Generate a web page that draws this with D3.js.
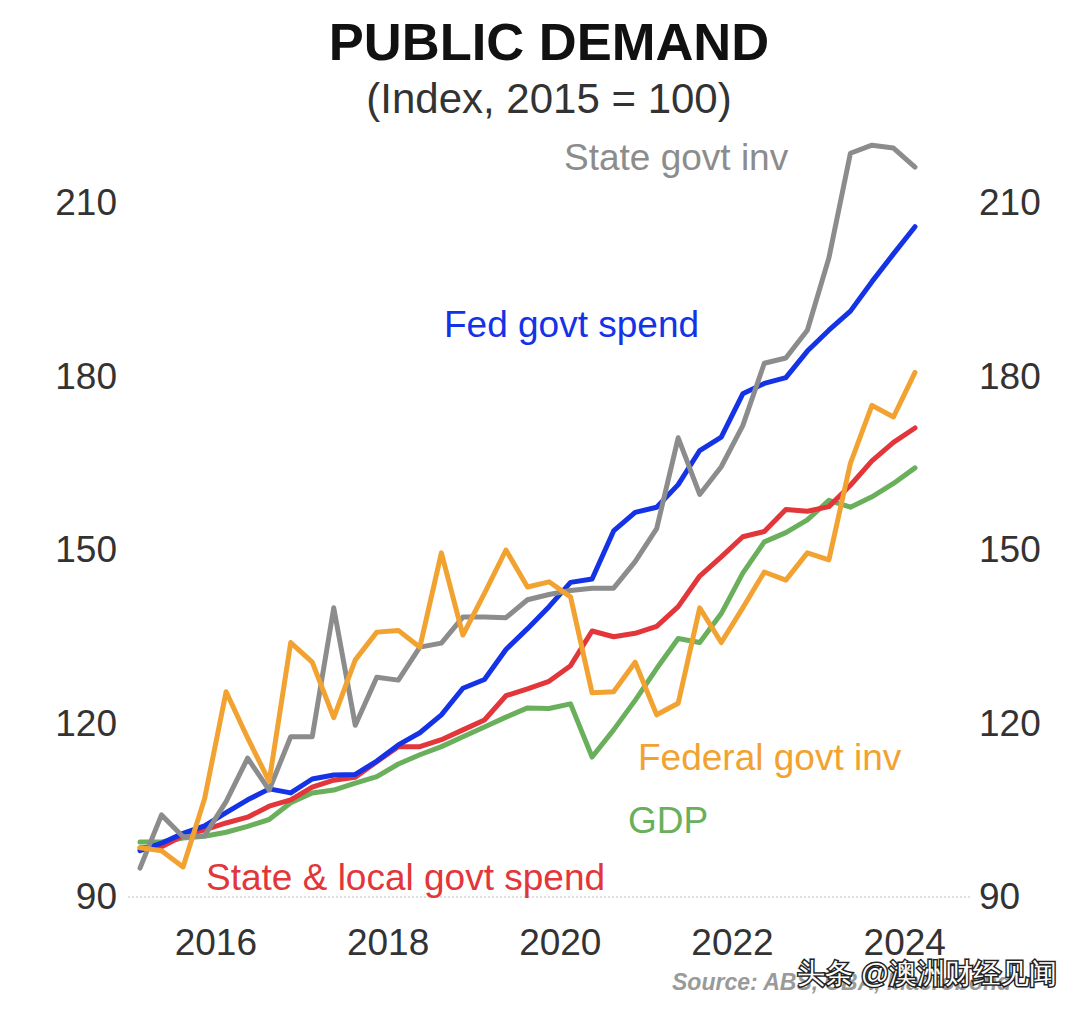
<!DOCTYPE html>
<html>
<head>
<meta charset="utf-8">
<script src="https://cdn.jsdelivr.net/npm/d3@7"></script>
<style>
  html, body { margin: 0; padding: 0; background: #fff; }
  svg { display: block; }
  text { font-family: "Liberation Sans", Arial, Helvetica, sans-serif; }
</style>
</head>
<body>
<svg id="chart" width="1076" height="1010"></svg>
<script>
// ---- Data (quarterly, 2015 Q1 – 2024 Q1), Index 2015 = 100 ----
const quarters = [
  "2015Q1","2015Q2","2015Q3","2015Q4","2016Q1","2016Q2","2016Q3","2016Q4",
  "2017Q1","2017Q2","2017Q3","2017Q4","2018Q1","2018Q2","2018Q3","2018Q4",
  "2019Q1","2019Q2","2019Q3","2019Q4","2020Q1","2020Q2","2020Q3","2020Q4",
  "2021Q1","2021Q2","2021Q3","2021Q4","2022Q1","2022Q2","2022Q3","2022Q4",
  "2023Q1","2023Q2","2023Q3","2023Q4","2024Q1"
];
const fedGovtSpend = [
  98, 99.3, 101, 102.3, 104.6, 106.8, 108.7, 108, 110.4, 111.1, 111.2, 113.5,
  116.3, 118.4, 121.5, 126.1, 127.6, 132.8, 136.4, 140.2, 144.4, 145, 153.3, 156.5,
  157.4, 161.3, 167.2, 169.5, 177, 178.8, 179.8, 184.4, 188, 191.3, 196.4, 201.2, 205.9
];
const stateLocalGovtSpend = [
  98.5, 98.7, 100.6, 101.6, 102.8, 103.8, 105.7, 106.8, 109, 110.2, 110.7, 113.4,
  116, 116, 117.2, 118.9, 120.6, 124.8, 126, 127.3, 130, 136, 135, 135.6,
  136.8, 140.2, 145.5, 148.8, 152.3, 153.2, 157, 156.7, 157.5, 161.2, 165.4, 168.6, 171.1
];
const gdp = [
  99.5, 99.5, 100.2, 100.5, 101.2, 102.2, 103.4, 106.3, 108, 108.5, 109.7, 110.8,
  113, 114.6, 116, 117.7, 119.4, 121.1, 122.7, 122.6, 123.4, 114.2, 118.9, 124,
  129.5, 134.7, 134, 139, 146, 151.4, 153, 155.2, 158.6, 157.4, 159.2, 161.5, 164.2
];
const stateGovtInv = [
  95, 104.2, 100.4, 100.6, 106.5, 114, 108.5, 117.7, 117.7, 140, 119.7, 128,
  127.5, 133.2, 133.9, 138.4, 138.4, 138.3, 141.4, 142.3, 143, 143.4, 143.4, 148,
  153.7, 169.4, 159.6, 164.4, 171.5, 182.3, 183.2, 188, 200.5, 218.6, 220, 219.5, 216.2
];
const federalGovtInv = [
  98.5, 98, 95.2, 107, 125.5, 117.5, 110, 134, 130.6, 121, 131, 135.8,
  136.1, 133.2, 149.5, 135.3, 142.5, 150, 143.6, 144.5, 141.9, 125.3, 125.5, 130.6,
  121.5, 123.5, 140, 134, 140, 146.2, 144.8, 149.5, 148.3, 165, 175, 173, 180.7
];
const yTicks = [90, 120, 150, 180, 210];
const xTickYears = [2016, 2018, 2020, 2022, 2024];
const xTickLabels = ["2016", "2018", "2020", "2022", "2024"];

const series = [
  { name: "GDP",                      values: gdp,                 color: "#6aaf5c" },
  { name: "State & local govt spend", values: stateLocalGovtSpend, color: "#e2363a" },
  { name: "Fed govt spend",           values: fedGovtSpend,        color: "#1432e6" },
  { name: "State govt inv",           values: stateGovtInv,        color: "#8c8c8c" },
  { name: "Federal govt inv",         values: federalGovtInv,      color: "#f2a230" }
];

// quarter label -> decimal year at mid-quarter
function qToYear(q) {
  const y = +q.slice(0, 4), n = +q.slice(5);
  return y + (n - 1) / 4 + 0.125;
}

const svg = d3.select("#chart");

const x = d3.scaleLinear().domain([2015.125, 2024.125]).range([140, 915]);
const y = d3.scaleLinear().domain([90, 210]).range([897, 203]);

const tickFont = 37;

// Title
svg.append("text")
  .attr("x", 549).attr("y", 60)
  .attr("text-anchor", "middle")
  .attr("font-size", 52.5).attr("font-weight", "bold").attr("fill", "#111")
  .text("PUBLIC DEMAND");
svg.append("text")
  .attr("x", 549).attr("y", 113)
  .attr("text-anchor", "middle")
  .attr("font-size", 42).attr("fill", "#333")
  .text("(Index, 2015 = 100)");

// Baseline (dotted)
svg.append("line")
  .attr("x1", 128).attr("x2", 972)
  .attr("y1", y(90)).attr("y2", y(90))
  .attr("stroke", "#d6d6d6").attr("stroke-width", 1.5)
  .attr("stroke-dasharray", "2,2");

// Left axis
const yLeft = d3.axisLeft(y).tickValues(yTicks).tickSize(0).tickPadding(0);
svg.append("g")
  .attr("transform", "translate(117,0)")
  .call(yLeft)
  .call(g => g.select(".domain").remove())
  .call(g => g.selectAll("text")
    .attr("font-size", tickFont).attr("fill", "#333")
    .attr("font-family", "'Liberation Sans', Arial, sans-serif"));

// Right axis
const yRight = d3.axisRight(y).tickValues(yTicks).tickSize(0).tickPadding(0);
svg.append("g")
  .attr("transform", "translate(979,0)")
  .call(yRight)
  .call(g => g.select(".domain").remove())
  .call(g => g.selectAll("text")
    .attr("font-size", tickFont).attr("fill", "#333")
    .attr("font-family", "'Liberation Sans', Arial, sans-serif"));

// Bottom axis
const xAxis = d3.axisBottom(x).tickValues(xTickYears)
  .tickFormat((d, i) => xTickLabels[i]).tickSize(0).tickPadding(0);
svg.append("g")
  .attr("transform", "translate(0,929)")
  .call(xAxis)
  .call(g => g.select(".domain").remove())
  .call(g => g.selectAll("text")
    .attr("font-size", tickFont).attr("fill", "#333")
    .attr("font-family", "'Liberation Sans', Arial, sans-serif"));

// Lines
const line = d3.line()
  .x((d, i) => x(qToYear(quarters[i])))
  .y(d => y(d));

svg.append("g").selectAll("path")
  .data(series)
  .join("path")
  .attr("d", d => line(d.values))
  .attr("fill", "none")
  .attr("stroke", d => d.color)
  .attr("stroke-width", 5)
  .attr("stroke-linejoin", "round")
  .attr("stroke-linecap", "round");

// Series labels
const labels = [
  { text: "State govt inv",           x: 564, y: 170, color: "#8c8c8c" },
  { text: "Fed govt spend",           x: 444, y: 337, color: "#1432e6" },
  { text: "Federal govt inv",         x: 638, y: 770, color: "#f2a230" },
  { text: "GDP",                      x: 628, y: 833, color: "#6aaf5c" },
  { text: "State & local govt spend", x: 206, y: 890, color: "#e2363a" }
];
svg.append("g").selectAll("text")
  .data(labels)
  .join("text")
  .attr("x", d => d.x).attr("y", d => d.y)
  .attr("font-size", 37)
  .attr("fill", d => d.color)
  .text(d => d.text);

// Source
svg.append("text")
  .attr("x", 672).attr("y", 990)
  .attr("font-size", 23).attr("font-style", "italic").attr("font-weight", "bold")
  .attr("fill", "#9a9a9a")
  .text("Source: ABS, CBA, Macrobond");

// Watermark
svg.append("text")
  .attr("x", 797).attr("y", 983)
  .attr("font-size", 28)
  .attr("font-family", "'Noto Sans CJK SC', sans-serif")
  .attr("fill", "#fff")
  .attr("stroke", "#222").attr("stroke-width", 3)
  .attr("paint-order", "stroke")
  .text("头条 @澳洲财经见闻");
</script>
</body>
</html>
